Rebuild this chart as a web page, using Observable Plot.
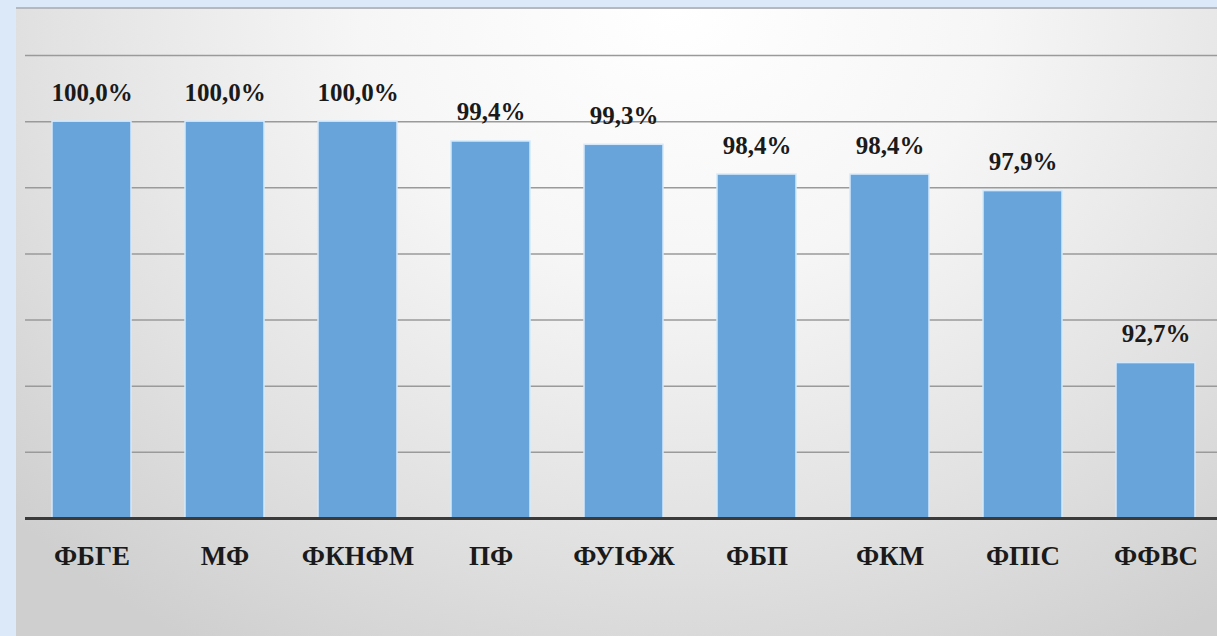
<!DOCTYPE html>
<html>
<head>
<meta charset="utf-8">
<script src="https://cdn.jsdelivr.net/npm/d3@7"></script>
<script src="https://cdn.jsdelivr.net/npm/@observablehq/plot@0.6"></script>
<style>
  html, body { margin: 0; padding: 0; }
  body { width: 1217px; height: 636px; background: #dce9f8; position: relative; overflow: hidden; }
  #panel {
    position: absolute; left: 16px; top: 7px; width: 1201px; height: 629px;
    border-top: 2px solid #b5b8bc; box-sizing: border-box;
    background: radial-gradient(ellipse 75% 120% at 55% 0%, #ffffff 0%, #f6f6f6 35%, #e2e2e2 70%, #cfcfcf 100%);
  }
  #chart { position: absolute; left: 0; top: 0; }
  #chart svg, #chart svg text { font-family: "Liberation Serif", "Times New Roman", Times, serif !important; }
</style>
</head>
<body>
<div id="panel"></div>
<div id="chart"></div>
<script>
const categories = ["ФБГЕ", "МФ", "ФКНФМ", "ПФ", "ФУІФЖ", "ФБП", "ФКМ", "ФПІС", "ФФВС"];
const values = [100.0, 100.0, 100.0, 99.4, 99.3, 98.4, 98.4, 97.9, 92.7];
const gridTicks = [90, 92, 94, 96, 98, 100, 102];
const baseValue = 88;

const data = categories.map((c, i) => ({category: c, value: values[i]}));
const fmt = v => v.toFixed(1).replace(".", ",") + "%";

const chart = Plot.plot({
  width: 1217,
  height: 636,
  marginTop: 55,
  marginBottom: 118,
  marginLeft: 25,
  marginRight: 0,
  style: {background: "transparent", fontFamily: "Liberation Serif"},
  x: {domain: categories, range: [24.65, 1222.75], paddingInner: 0.406, paddingOuter: 0.203, label: null},
  y: {domain: [baseValue, 102], label: null, axis: null},
  marks: [
    Plot.ruleY(gridTicks, {stroke: "#9a9a9a", strokeWidth: 1.5}),
    Plot.barY(data, {x: "category", y1: baseValue, y2: "value", fill: "#68a3da", stroke: "#d4eafc", strokeWidth: 1.5}),
    Plot.ruleY([baseValue], {stroke: "#3a3a3a", strokeWidth: 3}),
    Plot.text(data, {x: "category", y: "value", text: d => fmt(d.value), dy: -29, fontSize: 25, fontWeight: "bold", fill: "#1a1a1a", fontFamily: "Liberation Serif"}),
    Plot.axisX({tickSize: 0, tickPadding: 38, lineAnchor: "middle", fontSize: 27, fontWeight: "bold", fill: "#1a1a1a", fontFamily: "Liberation Serif", label: null})
  ]
});
document.getElementById("chart").appendChild(chart);
</script>
</body>
</html>
